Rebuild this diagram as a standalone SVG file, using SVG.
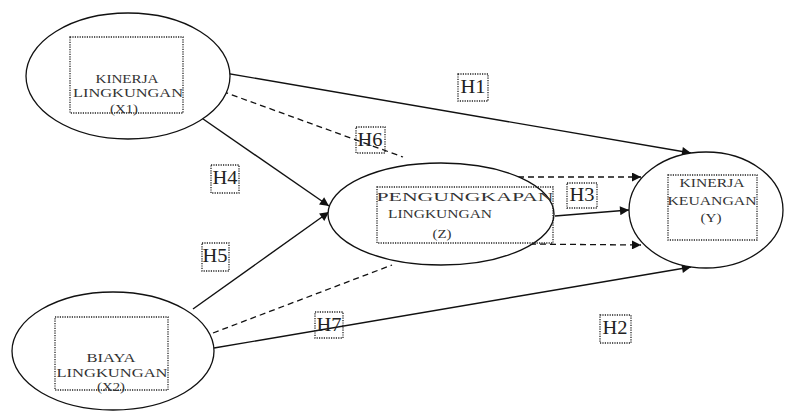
<svg xmlns="http://www.w3.org/2000/svg" width="785" height="412" viewBox="0 0 785 412">
<style>
.ell{fill:#fff;stroke:#111;stroke-width:1.3}
.box{fill:none;stroke:#222;stroke-width:1.3;stroke-dasharray:1.2 1.2}
.t{font-family:"Liberation Serif","Times New Roman",serif;font-size:13.5px;fill:#333;text-anchor:middle}
.h{font-family:"Liberation Serif","Times New Roman",serif;font-size:18px;fill:#222;text-anchor:middle}
.ln{fill:none;stroke:#111;stroke-width:1.4}
.ds{fill:none;stroke:#111;stroke-width:1.3;stroke-dasharray:6 4}
</style>
<defs>
<marker id="ar" viewBox="0 0 10 10" refX="10" refY="5" markerWidth="12" markerHeight="9" markerUnits="userSpaceOnUse" orient="auto">
<path d="M0,0 L10,5 L0,10 z" fill="#111"/>
</marker>
</defs>
<rect width="785" height="412" fill="#fff"/>
<g id="connectors">
<line class="ln" x1="213" y1="71" x2="691" y2="153" marker-end="url(#ar)"/>
<line class="ds" x1="213" y1="88" x2="403" y2="157"/>
<line class="ln" x1="193" y1="112" x2="329" y2="206" marker-end="url(#ar)"/>
<line class="ln" x1="193" y1="309" x2="329" y2="212" marker-end="url(#ar)"/>
<line class="ds" x1="213" y1="333" x2="392" y2="265"/>
<line class="ln" x1="214" y1="348" x2="691" y2="267" marker-end="url(#ar)"/>
<line class="ln" x1="555" y1="216" x2="629" y2="210" marker-end="url(#ar)"/>
<line class="ds" x1="498" y1="177" x2="641" y2="177" marker-end="url(#ar)"/>
<line class="ds" x1="520" y1="244" x2="641" y2="245" marker-end="url(#ar)"/>
</g>
<g id="X1">
<ellipse class="ell" cx="128" cy="76" rx="102" ry="63"/>
<rect class="box" x="70" y="37" width="113" height="76"/>
<text class="t" x="127" y="83" textLength="63" lengthAdjust="spacingAndGlyphs">KINERJA</text>
<text class="t" x="128" y="97" textLength="110" lengthAdjust="spacingAndGlyphs">LINGKUNGAN</text>
<text class="t" x="124" y="113" textLength="28" lengthAdjust="spacingAndGlyphs">(X1)</text>
</g>
<g id="X2">
<ellipse class="ell" cx="113" cy="351" rx="101" ry="59"/>
<rect class="box" x="55" y="317" width="113" height="73"/>
<text class="t" x="111" y="362" textLength="49" lengthAdjust="spacingAndGlyphs">BIAYA</text>
<text class="t" x="112" y="377" textLength="111" lengthAdjust="spacingAndGlyphs">LINGKUNGAN</text>
<text class="t" x="111" y="391" textLength="28" lengthAdjust="spacingAndGlyphs">(X2)</text>
</g>
<g id="Z">
<ellipse class="ell" cx="441" cy="214" rx="113" ry="51"/>
<rect class="box" x="377" y="187" width="176" height="56"/>
<text class="t" x="465" y="201" textLength="177" lengthAdjust="spacingAndGlyphs">PENGUNGKAPAN</text>
<text class="t" x="440" y="218" textLength="104" lengthAdjust="spacingAndGlyphs">LINGKUNGAN</text>
<text class="t" x="442" y="238" textLength="19" lengthAdjust="spacingAndGlyphs">(Z)</text>
</g>
<g id="Y">
<ellipse class="ell" cx="706" cy="210" rx="77" ry="58"/>
<rect class="box" x="668" y="175" width="89" height="65"/>
<text class="t" x="712" y="187" textLength="65" lengthAdjust="spacingAndGlyphs">KINERJA</text>
<text class="t" x="712" y="205" textLength="89" lengthAdjust="spacingAndGlyphs">KEUANGAN</text>
<text class="t" x="711" y="222" textLength="21" lengthAdjust="spacingAndGlyphs">(Y)</text>
</g>
<g id="labels">
<g id="H1"><rect class="box" x="458" y="74" width="30" height="27"/><text class="h" x="473" y="93" textLength="25" lengthAdjust="spacingAndGlyphs">H1</text></g>
<g id="H6"><rect class="box" x="356" y="127" width="29" height="26"/><text class="h" x="370" y="146" textLength="25" lengthAdjust="spacingAndGlyphs">H6</text></g>
<g id="H4"><rect class="box" x="211" y="165" width="28" height="28"/><text class="h" x="225" y="184" textLength="25" lengthAdjust="spacingAndGlyphs">H4</text></g>
<g id="H5"><rect class="box" x="202" y="243" width="27" height="28"/><text class="h" x="215" y="262" textLength="25" lengthAdjust="spacingAndGlyphs">H5</text></g>
<g id="H3"><rect class="box" x="567" y="183" width="30" height="25"/><text class="h" x="582" y="201" textLength="25" lengthAdjust="spacingAndGlyphs">H3</text></g>
<g id="H7"><rect class="box" x="315" y="312" width="28" height="26"/><text class="h" x="329" y="331" textLength="25" lengthAdjust="spacingAndGlyphs">H7</text></g>
<g id="H2"><rect class="box" x="600" y="315" width="31" height="28"/><text class="h" x="615" y="334" textLength="25" lengthAdjust="spacingAndGlyphs">H2</text></g>
</g>
</svg>
